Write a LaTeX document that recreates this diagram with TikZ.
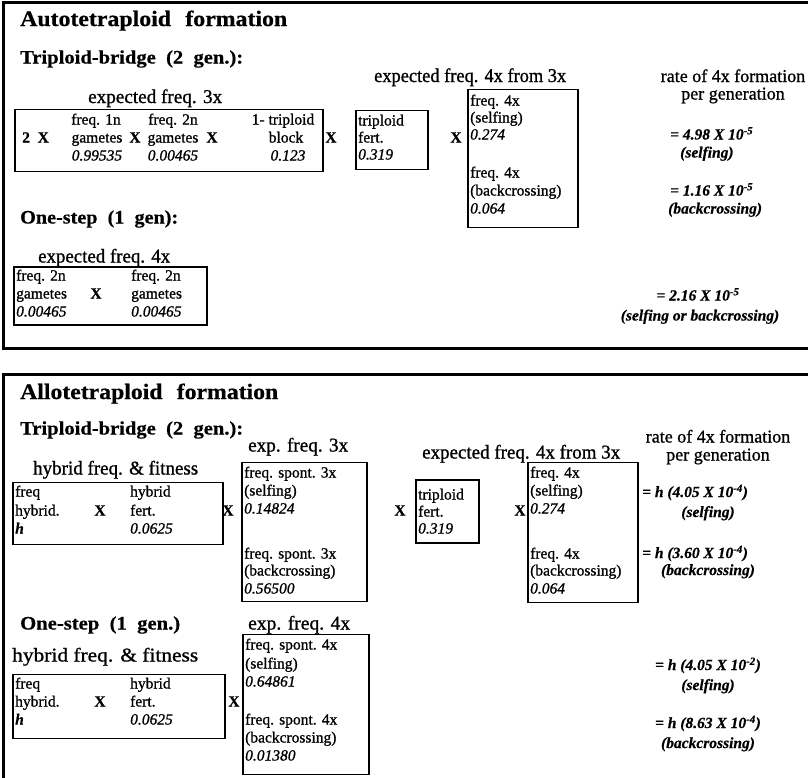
\documentclass[tikz,border=0pt]{standalone}
\usepackage{fontspec}
\setmainfont{Liberation Serif}[UprightFeatures={FakeBold=1.0},ItalicFeatures={FakeBold=1.0},BoldFeatures={FakeBold=0.5},BoldItalicFeatures={FakeBold=0.5}]
\usepackage{graphicx}
\newcommand\W[2]{\resizebox{#1pt}{\height}{#2}}
\newcommand\bxf{\fontsize{15.5}{18}\selectfont}
\newcommand\lbf{\fontsize{19.5}{22}\selectfont}
\newcommand\hdf{\fontsize{19}{22}\selectfont\bfseries}
\newcommand\ttf{\fontsize{22}{26}\selectfont\bfseries}
\newcommand\rtf{\fontsize{15.5}{18}\selectfont\bfseries\itshape}
\newcommand\rlf{\fontsize{18}{20}\selectfont}
\newcommand\tenp[1]{10\textsuperscript{-#1}}
\begin{document}
\begin{tikzpicture}[x=1pt,y=-1pt,
  lbl/.style={inner sep=0pt, anchor=base west},
  ctr/.style={inner sep=0pt, anchor=base},
  bx/.style={draw, line width=1.8pt, inner sep=0pt, anchor=north west},
  panel/.style={draw, line width=3pt}]
\useasboundingbox (0,0) rectangle (808,777);
\clip (0,0) rectangle (808,777);
\fill[white] (0,0) rectangle (808,777);

% ---------------- top panel ----------------
\draw[panel] (815,2) -- (3,2) -- (3,348) -- (815,348);
\node[lbl] (tTitle) at (20,26) {\W{267}{\ttf Autotetraploid\hspace{0.6em}formation}};
\node[lbl] (tTB) at (20,63.5) {\W{223}{\hdf Triploid-bridge\hspace{0.5em}(2\hspace{0.5em}gen.):}};
\node[lbl] (tE3) at (88,103) {\W{134}{\lbf expected freq. 3x}};
\node[lbl] (tE4) at (374,82) {\W{192}{\lbf expected freq. 4x from 3x}};
\node[ctr] (tR1) at (733,82) {\rlf rate of 4x formation};
\node[ctr] (tR2) at (733,99.5) {\rlf per generation};

% box 1
\node[bx, minimum width=308pt, minimum height=62pt] (b1) at (14,108.5) {};
\node[lbl] (b1x0) at (22,142.5) {\bxf\bfseries 2\hspace{0.5em}X};
\node[ctr] (b1a1) at (96,124.5) {\bxf freq. 1n};
\node[ctr] (b1a2) at (97,142.5) {\bxf gametes};
\node[ctr] (b1a3) at (97,160.5) {\bxf\itshape 0.99535};
\node[ctr] (b1x1) at (135,142.5) {\bxf\bfseries X};
\node[ctr] (b1b1) at (173,124.5) {\bxf freq. 2n};
\node[ctr] (b1b2) at (173,142.5) {\bxf gametes};
\node[ctr] (b1b3) at (173,160.5) {\bxf\itshape 0.00465};
\node[ctr] (b1x2) at (212,142.5) {\bxf\bfseries X};
\node[ctr] (b1c1) at (283,124.5) {\bxf 1- triploid};
\node[ctr] (b1c2) at (286,142.5) {\bxf block};
\node[ctr] (b1c3) at (288,160.5) {\bxf\itshape 0.123};

\node[ctr] (x1) at (331,142.5) {\bxf\bfseries X};

% box 2
\node[bx, minimum width=72pt, minimum height=59pt] (b2) at (355,109.5) {};
\node[lbl] (b2a) at (358,125.5) {\bxf triploid};
\node[lbl] (b2b) at (358,142.5) {\bxf fert.};
\node[lbl] (b2c) at (358,159.5) {\bxf\itshape 0.319};

\node[ctr] (x2) at (456,142.5) {\bxf\bfseries X};

% box 3
\node[bx, minimum width=110pt, minimum height=138pt] (b3) at (467,88.5) {};
\node[lbl] (b3a) at (470,105.5) {\bxf freq. 4x};
\node[lbl] (b3b) at (470,122.5) {\bxf (selfing)};
\node[lbl] (b3c) at (470,139.5) {\bxf\itshape 0.274};
\node[lbl] (b3d) at (470,177.5) {\bxf freq. 4x};
\node[lbl] (b3e) at (470,195.5) {\bxf (backcrossing)};
\node[lbl] (b3f) at (470,213.5) {\bxf\itshape 0.064};

\node[lbl] (r1) at (670,139.5) {\rtf = 4.98 X \tenp{5}};
\node[lbl] (r2) at (680,157.5) {\rtf (selfing)};
\node[lbl] (r3) at (670,195.5) {\rtf = 1.16 X \tenp{5}};
\node[lbl] (r4) at (668,213.5) {\rtf (backcrossing)};

\node[lbl] (tOS) at (20,223.5) {\W{158}{\hdf One-step\hspace{0.5em}(1\hspace{0.5em}gen):}};
\node[lbl] (tE4b) at (38,262.5) {\W{132}{\lbf expected freq. 4x}};

% box 4
\node[bx, minimum width=193pt, minimum height=58pt] (b4) at (13,266) {};
\node[lbl] (b4a) at (16,280.5) {\bxf freq. 2n};
\node[lbl] (b4b) at (16,298.5) {\bxf gametes};
\node[lbl] (b4c) at (16,316.5) {\bxf\itshape 0.00465};
\node[ctr] (b4x) at (96,298.5) {\bxf\bfseries X};
\node[lbl] (b4d) at (131,280.5) {\bxf freq. 2n};
\node[lbl] (b4e) at (131,298.5) {\bxf gametes};
\node[lbl] (b4f) at (131,316.5) {\bxf\itshape 0.00465};

\node[ctr] (r5) at (698,300.5) {\rtf = 2.16 X \tenp{5}};
\node[ctr] (r6) at (700,320.5) {\rtf (selfing or backcrossing)};

% ---------------- bottom panel ----------------
\draw[panel] (815,374) -- (3,374) -- (3,790);
\node[lbl] (bTitle) at (20,399) {\W{258}{\ttf Allotetraploid\hspace{0.6em}formation}};
\node[lbl] (bTB) at (20,434.5) {\W{223}{\hdf Triploid-bridge\hspace{0.5em}(2\hspace{0.5em}gen.):}};
\node[lbl] (bE3) at (248,451.5) {\W{100}{\lbf exp. freq. 3x}};
\node[lbl] (bE4) at (422,458.5) {\W{198}{\lbf expected freq. 4x from 3x}};
\node[ctr] (bR1) at (718,442.5) {\rlf rate of 4x formation};
\node[ctr] (bR2) at (718,460.5) {\rlf per generation};
\node[lbl] (bHF) at (33,474.5) {\W{165}{\lbf hybrid freq. \& fitness}};

% box A
\node[bx, minimum width=210pt, minimum height=62pt] (bA) at (12,481.5) {};
\node[lbl] (bAa) at (15,496.5) {\bxf freq};
\node[lbl] (bAb) at (15,515.5) {\bxf hybrid.};
\node[lbl] (bAc) at (15,533.5) {\bxf\itshape\bfseries h};
\node[ctr] (bAx) at (100,515.5) {\bxf\bfseries X};
\node[lbl] (bAd) at (130,496.5) {\bxf hybrid};
\node[lbl] (bAe) at (130,515.5) {\bxf fert.};
\node[lbl] (bAf) at (130,533.5) {\bxf\itshape 0.0625};

\node[ctr] (y1) at (228,515.5) {\bxf\bfseries X};

% box B
\node[bx, minimum width=125pt, minimum height=139pt] (bB) at (241,461.5) {};
\node[lbl] (bBa) at (244,477.5) {\bxf freq. spont. 3x};
\node[lbl] (bBb) at (244,495.5) {\bxf (selfing)};
\node[lbl] (bBc) at (244,513.5) {\bxf\itshape 0.14824};
\node[lbl] (bBd) at (244,558.5) {\bxf freq. spont. 3x};
\node[lbl] (bBe) at (244,575.5) {\bxf (backcrossing)};
\node[lbl] (bBf) at (244,593.5) {\bxf\itshape 0.56500};

\node[ctr] (y2) at (400,515.5) {\bxf\bfseries X};

% box C
\node[bx, minimum width=63pt, minimum height=63pt] (bC) at (415,479) {};
\node[lbl] (bCa) at (418,499.5) {\bxf triploid};
\node[lbl] (bCb) at (418,516.5) {\bxf fert.};
\node[lbl] (bCc) at (418,533.5) {\bxf\itshape 0.319};

\node[ctr] (y3) at (520,515.5) {\bxf\bfseries X};

% box D
\node[bx, minimum width=110pt, minimum height=140pt] (bD) at (527,461.5) {};
\node[lbl] (bDa) at (530,477.5) {\bxf freq. 4x};
\node[lbl] (bDb) at (530,495.5) {\bxf (selfing)};
\node[lbl] (bDc) at (530,513.5) {\bxf\itshape 0.274};
\node[lbl] (bDd) at (530,558.5) {\bxf freq. 4x};
\node[lbl] (bDe) at (530,575.5) {\bxf (backcrossing)};
\node[lbl] (bDf) at (530,593.5) {\bxf\itshape 0.064};

\node[lbl] (s1) at (642,497) {\rtf = h (4.05 X \tenp{4})};
\node[ctr] (s2) at (708,517) {\rtf (selfing)};
\node[lbl] (s3) at (642,558) {\rtf = h (3.60 X \tenp{4})};
\node[ctr] (s4) at (708,575) {\rtf (backcrossing)};

\node[lbl] (tOS2) at (20,629.5) {\W{160}{\hdf One-step\hspace{0.5em}(1\hspace{0.5em}gen.)}};
\node[lbl] (bE4b) at (248,629.5) {\W{102}{\lbf exp. freq. 4x}};
\node[lbl] (bHF2) at (12,661.5) {\W{186}{\lbf hybrid freq. \& fitness}};

% box F
\node[bx, minimum width=212pt, minimum height=64pt] (bF) at (12,673.5) {};
\node[lbl] (bFa) at (15,688.5) {\bxf freq};
\node[lbl] (bFb) at (15,706.5) {\bxf hybrid.};
\node[lbl] (bFc) at (15,724.5) {\bxf\itshape\bfseries h};
\node[ctr] (bFx) at (100,706.5) {\bxf\bfseries X};
\node[lbl] (bFd) at (130,688.5) {\bxf hybrid};
\node[lbl] (bFe) at (130,706.5) {\bxf fert.};
\node[lbl] (bFf) at (130,724.5) {\bxf\itshape 0.0625};

\node[ctr] (y4) at (234,706.5) {\bxf\bfseries X};

% box E
\node[bx, minimum width=126pt, minimum height=140pt] (bE) at (242,633.5) {};
\node[lbl] (bEa) at (245,649.5) {\bxf freq. spont. 4x};
\node[lbl] (bEb) at (245,668.5) {\bxf (selfing)};
\node[lbl] (bEc) at (245,686.5) {\bxf\itshape 0.64861};
\node[lbl] (bEd) at (245,724.5) {\bxf freq. spont. 4x};
\node[lbl] (bEe) at (245,742.5) {\bxf (backcrossing)};
\node[lbl] (bEf) at (245,760.5) {\bxf\itshape 0.01380};

\node[ctr] (s5) at (708,670) {\rtf = h (4.05 X \tenp{2})};
\node[ctr] (s6) at (708,690) {\rtf (selfing)};
\node[ctr] (s7) at (708,728) {\rtf = h (8.63 X \tenp{4})};
\node[ctr] (s8) at (708,748) {\rtf (backcrossing)};
\end{tikzpicture}
\end{document}
